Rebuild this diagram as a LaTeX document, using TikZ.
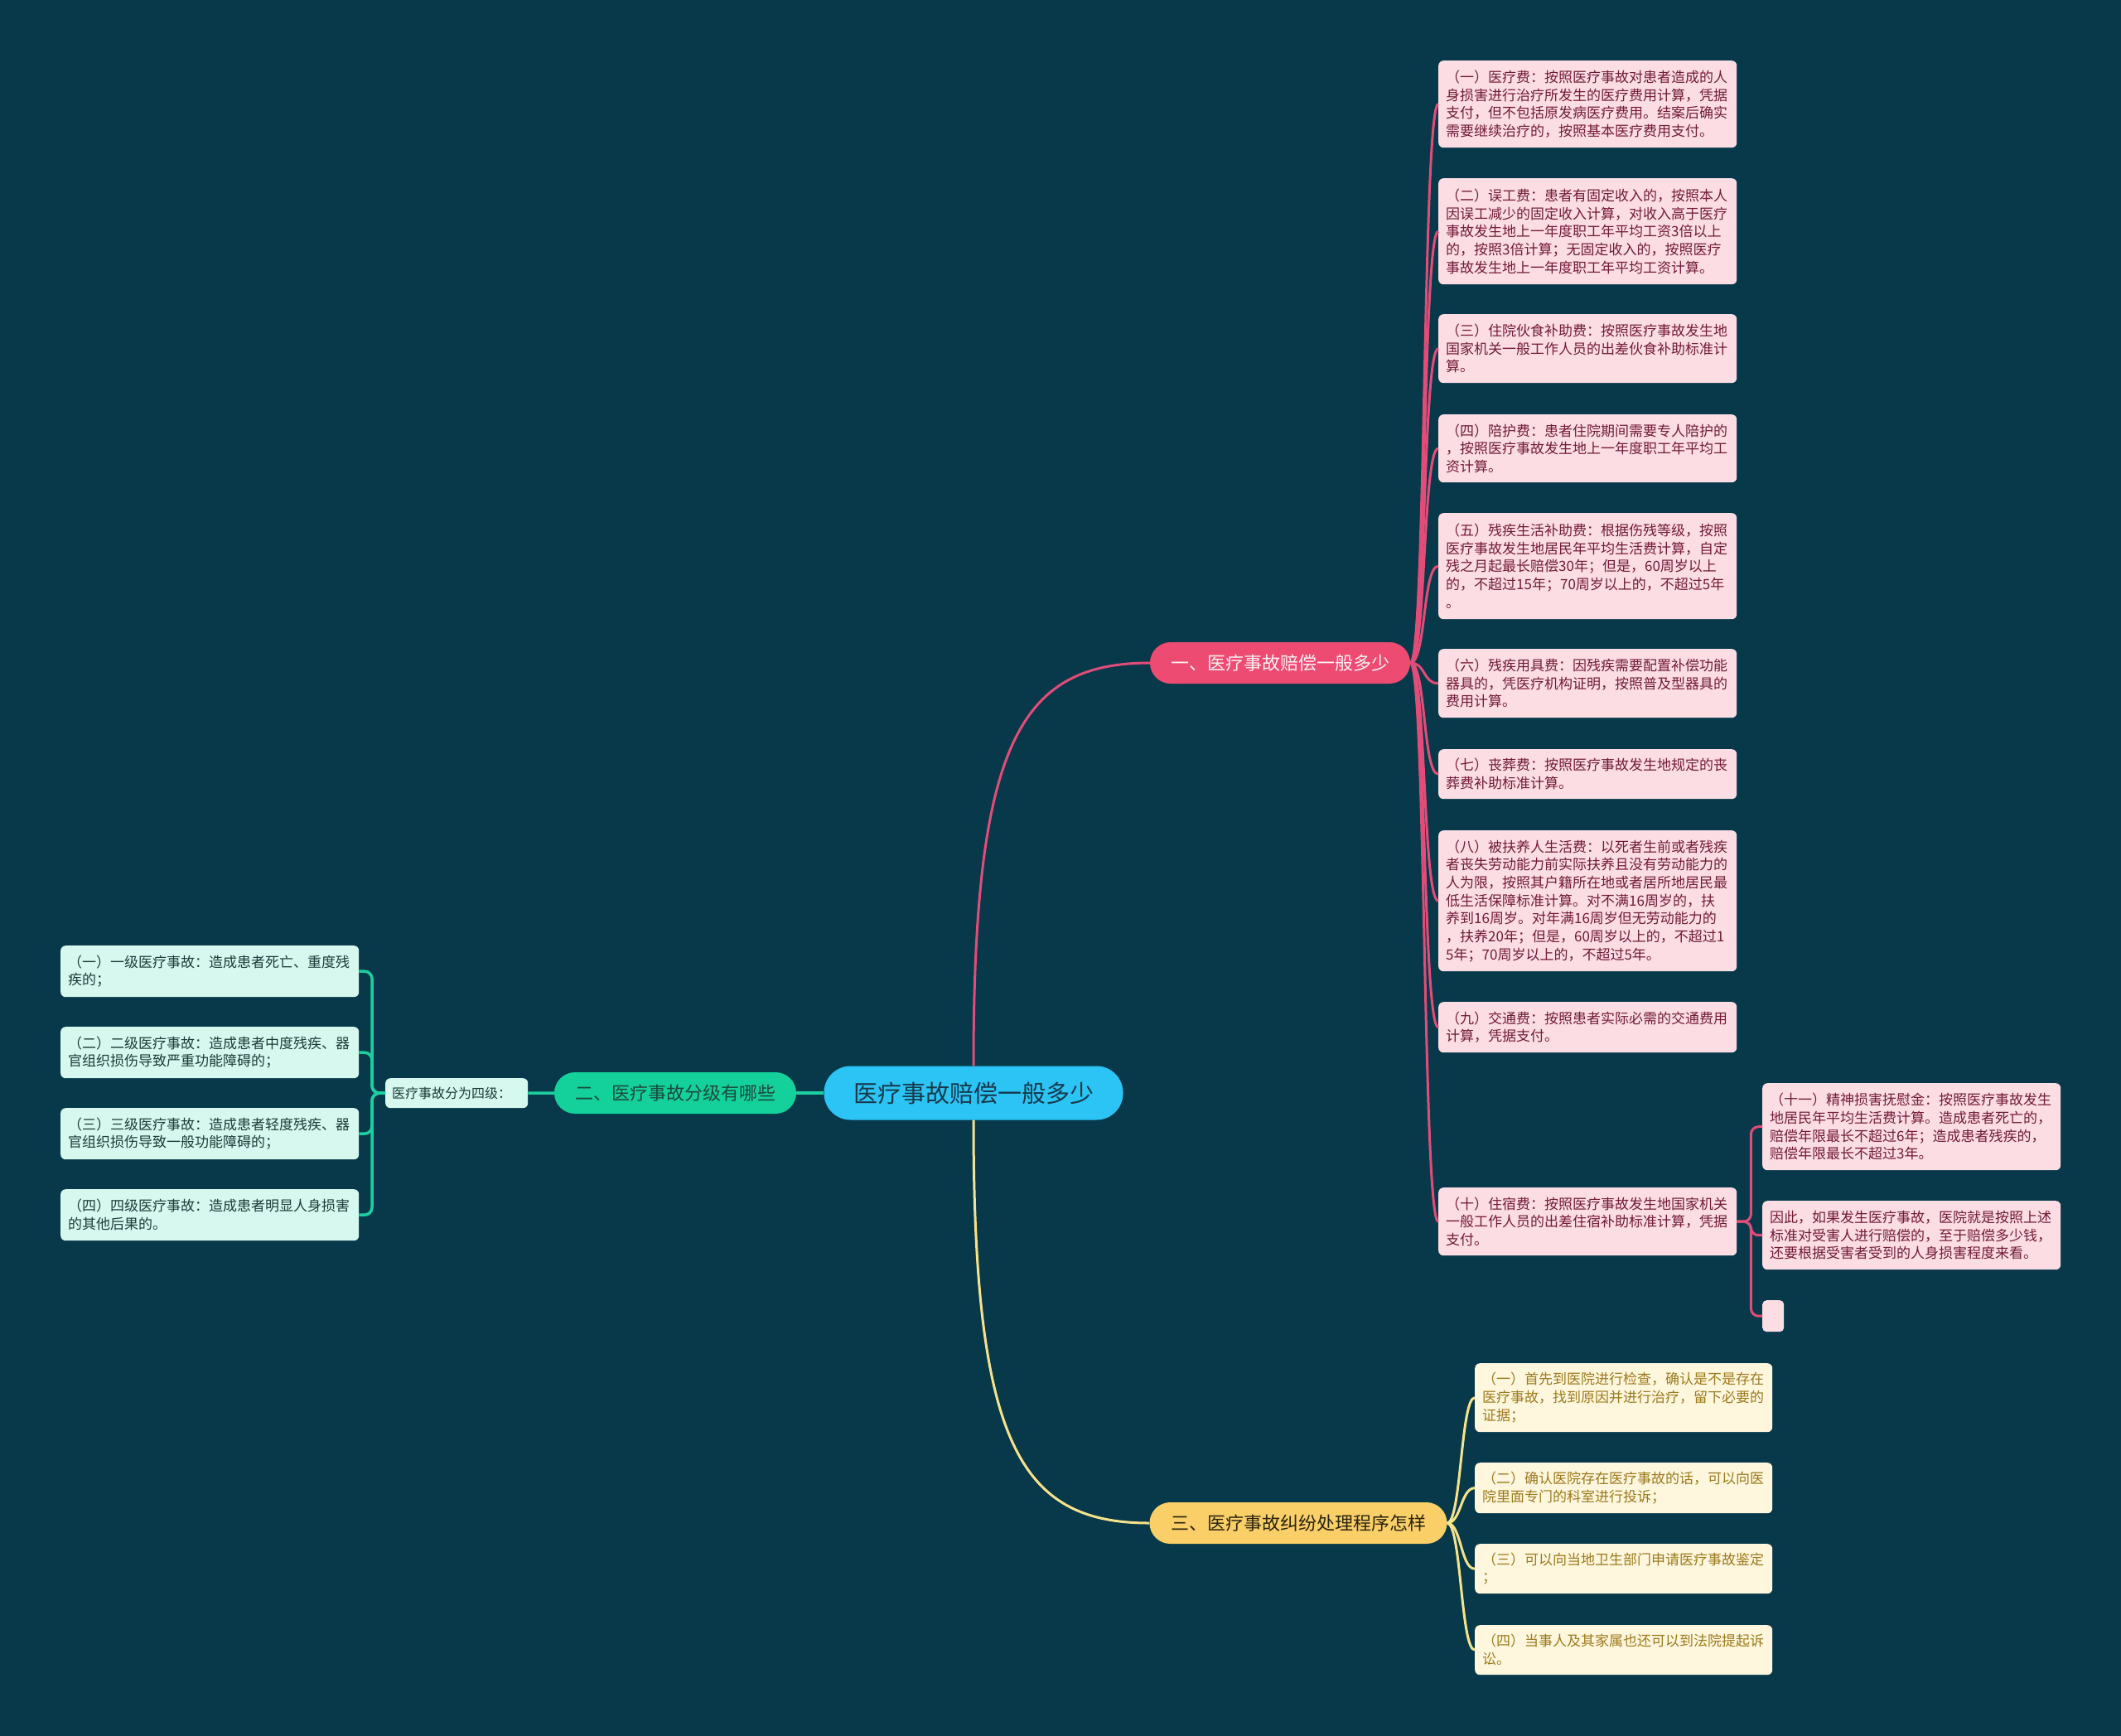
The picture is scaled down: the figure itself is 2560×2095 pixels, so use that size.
\documentclass[tikz,border=0pt]{standalone}
\usepackage{fontspec}
\setmainfont{Noto Sans CJK SC}
\usetikzlibrary{calc}
\definecolor{bgc}{HTML}{07394A}
\definecolor{pinkfill}{HTML}{FCDDE4}
\definecolor{pinktext}{HTML}{721A38}
\definecolor{yelfill}{HTML}{FEF6DD}
\definecolor{yeltext}{HTML}{9C7A1C}
\definecolor{grnfill}{HTML}{D6F8EE}
\definecolor{grntext}{HTML}{1D3B3A}
\definecolor{rootfill}{HTML}{2BC4F5}
\definecolor{roottext}{HTML}{163A4C}
\definecolor{redfill}{HTML}{EE4B72}
\definecolor{redtext}{HTML}{FFF0F4}
\definecolor{gbfill}{HTML}{14D09B}
\definecolor{gbtext}{HTML}{1A4A3C}
\definecolor{ybfill}{HTML}{FACF67}
\definecolor{ybtext}{HTML}{2A2410}
\definecolor{redline}{HTML}{E24C78}
\definecolor{grnline}{HTML}{1DCEA0}
\definecolor{yelline}{HTML}{F7E28C}
\tikzset{
  leafbase/.style={anchor=north west, rounded corners=6pt, inner ysep=0pt, inner xsep=9pt, align=left, font=\fontsize{17}{21.7}\selectfont},
  pleaf/.style={leafbase, fill=pinkfill, text=pinktext, text width=342pt},
  yleaf/.style={leafbase, fill=yelfill, text=yeltext, text width=341pt},
  gleaf/.style={leafbase, fill=grnfill, text=grntext, text width=342pt},
  branchbox/.style={inner sep=0pt, minimum height=50pt, rounded corners=25pt, font=\fontsize{22}{26}\selectfont},
  rc/.style={draw=redline, line width=3pt},
  gc/.style={draw=grnline, line width=3.5pt, rounded corners=9pt},
  yc/.style={draw=yelline, line width=3pt},
}
\begin{document}
\begin{tikzpicture}[x=1pt,y=-1pt]
\fill[bgc] (0,0) rectangle (2560,2095);
\useasboundingbox (0,0) rectangle (2560,2095);

% root and branches
\node[inner sep=0pt, minimum width=361pt, minimum height=65pt, rounded corners=32pt, fill=rootfill, text=roottext, font=\fontsize{29}{34}\selectfont] (root) at (1175,1319) {医疗事故赔偿一般多少};
\node[branchbox, minimum width=314pt, fill=redfill, text=redtext] (b1) at (1545,800) {一、医疗事故赔偿一般多少};
\node[branchbox, minimum width=292pt, fill=gbfill, text=gbtext] (b2) at (815,1319) {二、医疗事故分级有哪些};
\node[branchbox, minimum width=359pt, fill=ybfill, text=ybtext] (b3) at (1567,1838) {三、医疗事故纠纷处理程序怎样};

% pink leaves
\node[pleaf, minimum height=105pt] (p1) at (1736,73) {（一）医疗费：按照医疗事故对患者造成的人\\身损害进行治疗所发生的医疗费用计算，凭据\\支付，但不包括原发病医疗费用。结案后确实\\需要继续治疗的，按照基本医疗费用支付。};
\node[pleaf, minimum height=128pt] (p2) at (1736,215) {（二）误工费：患者有固定收入的，按照本人\\因误工减少的固定收入计算，对收入高于医疗\\事故发生地上一年度职工年平均工资3倍以上\\的，按照3倍计算；无固定收入的，按照医疗\\事故发生地上一年度职工年平均工资计算。};
\node[pleaf, minimum height=83pt] (p3) at (1736,379) {（三）住院伙食补助费：按照医疗事故发生地\\国家机关一般工作人员的出差伙食补助标准计\\算。};
\node[pleaf, minimum height=82pt] (p4) at (1736,500) {（四）陪护费：患者住院期间需要专人陪护的\\，按照医疗事故发生地上一年度职工年平均工\\资计算。};
\node[pleaf, minimum height=128pt] (p5) at (1736,619) {（五）残疾生活补助费：根据伤残等级，按照\\医疗事故发生地居民年平均生活费计算，自定\\残之月起最长赔偿30年；但是，60周岁以上\\的，不超过15年；70周岁以上的，不超过5年\\。};
\node[pleaf, minimum height=83pt] (p6) at (1736,783) {（六）残疾用具费：因残疾需要配置补偿功能\\器具的，凭医疗机构证明，按照普及型器具的\\费用计算。};
\node[pleaf, minimum height=60pt] (p7) at (1736,904) {（七）丧葬费：按照医疗事故发生地规定的丧\\葬费补助标准计算。};
\node[pleaf, minimum height=170pt] (p8) at (1736,1002) {（八）被扶养人生活费：以死者生前或者残疾\\者丧失劳动能力前实际扶养且没有劳动能力的\\人为限，按照其户籍所在地或者居所地居民最\\低生活保障标准计算。对不满16周岁的，扶\\养到16周岁。对年满16周岁但无劳动能力的\\，扶养20年；但是，60周岁以上的，不超过1\\5年；70周岁以上的，不超过5年。};
\node[pleaf, minimum height=61pt] (p9) at (1736,1209) {（九）交通费：按照患者实际必需的交通费用\\计算，凭据支付。};
\node[pleaf, minimum height=82pt] (p10) at (1736,1433) {（十）住宿费：按照医疗事故发生地国家机关\\一般工作人员的出差住宿补助标准计算，凭据\\支付。};
\node[pleaf, minimum height=105pt] (p11) at (2127,1307) {（十一）精神损害抚慰金：按照医疗事故发生\\地居民年平均生活费计算。造成患者死亡的，\\赔偿年限最长不超过6年；造成患者残疾的，\\赔偿年限最长不超过3年。};
\node[pleaf, minimum height=83pt] (p12) at (2127,1449) {因此，如果发生医疗事故，医院就是按照上述\\标准对受害人进行赔偿的，至于赔偿多少钱，\\还要根据受害者受到的人身损害程度来看。};
\node[anchor=north west, fill=pinkfill, rounded corners=5pt, inner sep=0pt, minimum width=26pt, minimum height=38pt] (p13) at (2127,1569) {};

% yellow leaves
\node[yleaf, minimum height=83pt] (y1) at (1780,1645) {（一）首先到医院进行检查，确认是不是存在\\医疗事故，找到原因并进行治疗，留下必要的\\证据；};
\node[yleaf, minimum height=61pt] (y2) at (1780,1765) {（二）确认医院存在医疗事故的话，可以向医\\院里面专门的科室进行投诉；};
\node[yleaf, minimum height=60pt] (y3) at (1780,1863) {（三）可以向当地卫生部门申请医疗事故鉴定\\；};
\node[yleaf, minimum height=60pt] (y4) at (1780,1961) {（四）当事人及其家属也还可以到法院提起诉\\讼。};

% green leaves
\node[anchor=north west, fill=grnfill, text=grntext, rounded corners=6pt, inner sep=0pt, inner xsep=8pt, minimum width=172pt, minimum height=36pt, text width=156pt, align=left, font=\fontsize{16}{20}\selectfont] (g0) at (465,1301) {医疗事故分为四级：};
\node[gleaf, minimum height=62pt] (gl1) at (73,1141) {（一）一级医疗事故：造成患者死亡、重度残\\疾的；};
\node[gleaf, minimum height=62pt] (gl2) at (73,1239) {（二）二级医疗事故：造成患者中度残疾、器\\官组织损伤导致严重功能障碍的；};
\node[gleaf, minimum height=62pt] (gl3) at (73,1337) {（三）三级医疗事故：造成患者轻度残疾、器\\官组织损伤导致一般功能障碍的；};
\node[gleaf, minimum height=62pt] (gl4) at (73,1435) {（四）四级医疗事故：造成患者明显人身损害\\的其他后果的。};

% connectors
\draw[rc] (root.north) .. controls ($(root.north)+(0,-387)$) and ($(b1.west)+(-158,0)$) .. (b1.west);
\draw[yc] (root.south) .. controls ($(root.south)+(0,388)$) and ($(b3.west)+(-158,0)$) .. (b3.west);
\draw[gc] (root.west) -- (b2.east);
\draw[gc] (b2.west) -- (g0.east);
\foreach \n in {gl1,gl2,gl3,gl4}{
  \draw[gc] (g0.west) -- ++(-16,0) |- (\n.east);
}
\foreach \n in {p1,p2,p3,p4,p5,p6,p7,p8,p9,p10}{
  \draw[rc] (b1.east) .. controls ($(b1.east)+(19,0)$) and ($(\n.west)+(-19,0)$) .. (\n.west);
}
\foreach \n in {y1,y2,y3,y4}{
  \draw[yc] (b3.east) .. controls ($(b3.east)+(17,0)$) and ($(\n.west)+(-17,0)$) .. (\n.west);
}
\foreach \n in {p11,p12,p13}{
  \draw[rc, rounded corners=9pt] (p10.east) -- ++(17,0) |- (\n.west);
}
\end{tikzpicture}
\end{document}
